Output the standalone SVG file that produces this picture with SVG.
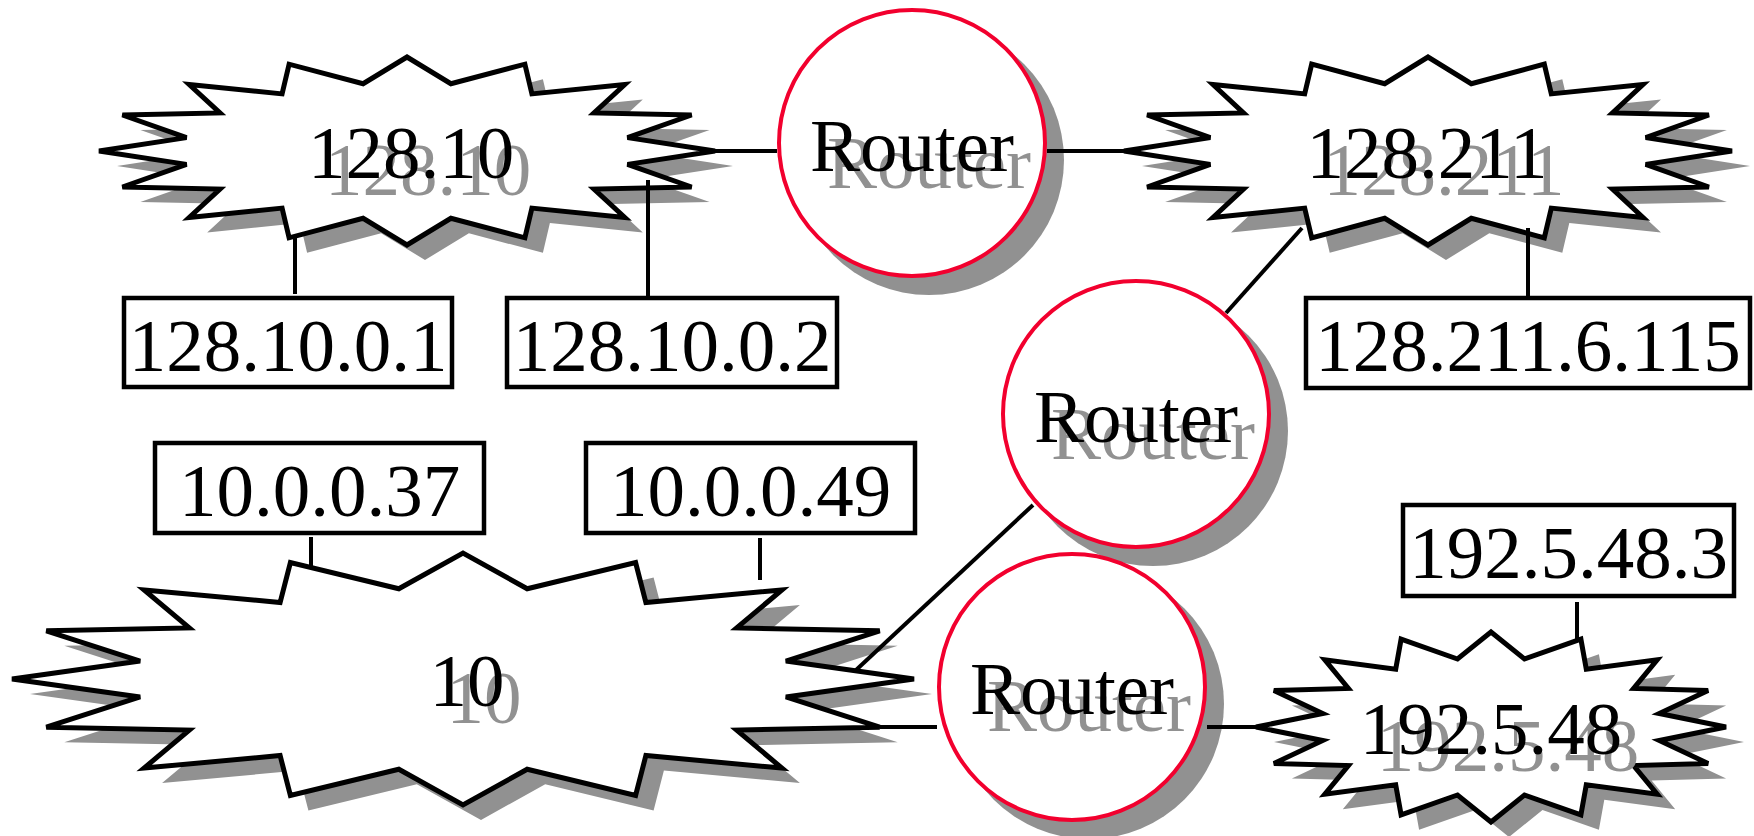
<svg xmlns="http://www.w3.org/2000/svg" width="1754" height="836" viewBox="0 0 1754 836">
<style>
.sh{fill:#919191;stroke:none}
.cloud{fill:#fff;stroke:#000;stroke-width:5}
.router{fill:#fff;stroke:#f2002e;stroke-width:4}
.box{fill:#fff;stroke:#000;stroke-width:4.5}
text{font-family:"Liberation Serif","Times New Roman",serif;font-size:75px;text-anchor:middle}
.st{fill:#919191}
.lt{fill:#000}
.conn line{stroke:#000;stroke-width:4;stroke-linecap:butt}
</style>
<defs>
<polygon id="p1" points="715,151 627.5,137.6 691.6,115 594,112.9 624.8,84.5 531.9,93.9 524.9,64.2 450.9,83.7 407,57 363.1,83.7 289.1,64.2 282.1,93.9 189.2,84.5 220,112.9 122.4,115 186.5,137.6 99,151 186.5,164.4 122.4,187 220,189.1 189.2,217.5 282.1,208.1 289.1,237.8 363.1,218.3 407,245 450.9,218.3 524.9,237.8 531.9,208.1 624.8,217.5 594,189.1 691.6,187 627.5,164.4"/>
<polygon id="p2" points="1732,151 1645.7,137.6 1708.9,115 1612.5,112.9 1643,84.5 1551.3,93.9 1544.3,64.2 1471.3,83.7 1428,57 1384.7,83.7 1311.7,64.2 1304.7,93.9 1213,84.5 1243.5,112.9 1147.1,115 1210.3,137.6 1124,151 1210.3,164.4 1147.1,187 1243.5,189.1 1213,217.5 1304.7,208.1 1311.7,237.8 1384.7,218.3 1428,245 1471.3,218.3 1544.3,237.8 1551.3,208.1 1643,217.5 1612.5,189.1 1708.9,187 1645.7,164.4"/>
<polygon id="p3" points="914,679 785.9,661.1 879.7,630.8 736.7,627.9 781.9,589.9 645.9,602.5 635.6,562.6 527.2,588.8 463,553 398.8,588.8 290.4,562.6 280.1,602.5 144.1,589.9 189.3,627.9 46.3,630.8 140.1,661.1 12,679 140.1,696.9 46.3,727.2 189.3,730.1 144.1,768.1 280.1,755.5 290.4,795.4 398.8,769.2 463,805 527.2,769.2 635.6,795.4 645.9,755.5 781.9,768.1 736.7,730.1 879.7,727.2 785.9,696.9"/>
<polygon id="p4" points="1726,727 1659.3,713.5 1708.1,690.6 1633.6,688.5 1657.2,659.8 1586.3,669.3 1580.9,639.2 1524.5,659 1491,632 1457.5,659 1401.1,639.2 1395.7,669.3 1324.8,659.8 1348.4,688.5 1273.9,690.6 1322.7,713.5 1256,727 1322.7,740.5 1273.9,763.4 1348.4,765.5 1324.8,794.2 1395.7,784.7 1401.1,814.8 1457.5,795 1491,822 1524.5,795 1580.9,814.8 1586.3,784.7 1657.2,794.2 1633.6,765.5 1708.1,763.4 1659.3,740.5"/>
</defs>

<g id="net-128-10">
<use href="#p1" class="sh" transform="translate(18,15)"/>
<use href="#p1" class="cloud"/>
<text class="st" x="428" y="195">128.10</text>
<text class="lt" x="411" y="178">128.10</text>
</g>

<g id="net-128-211">
<use href="#p2" class="sh" transform="translate(18,15)"/>
<use href="#p2" class="cloud"/>
<text class="st" x="1444" y="195">128.211</text>
<text class="lt" x="1427" y="178">128.211</text>
</g>

<g id="net-10">
<use href="#p3" class="sh" transform="translate(18,15)"/>
<use href="#p3" class="cloud"/>
<text class="st" x="484" y="723">10</text>
<text class="lt" x="467" y="706">10</text>
</g>

<g id="net-192-5-48">
<use href="#p4" class="sh" transform="translate(18,15)"/>
<use href="#p4" class="cloud"/>
<text class="st" x="1508" y="771">192.5.48</text>
<text class="lt" x="1491" y="754">192.5.48</text>
</g>

<g id="router-1">
<circle class="sh" cx="929" cy="160" r="135"/>
<circle class="router" cx="912" cy="143" r="133"/>
<text class="st" x="929" y="188">Router</text>
<text class="lt" x="912" y="171">Router</text>
</g>

<g id="router-2">
<circle class="sh" cx="1153" cy="431" r="135"/>
<circle class="router" cx="1136" cy="414" r="133"/>
<text class="st" x="1153" y="459">Router</text>
<text class="lt" x="1136" y="442">Router</text>
</g>

<g id="router-3">
<circle class="sh" cx="1089" cy="704" r="135"/>
<circle class="router" cx="1072" cy="687" r="133"/>
<text class="st" x="1089" y="731">Router</text>
<text class="lt" x="1072" y="714">Router</text>
</g>

<g id="host-128-10-0-1">
<rect class="box" x="124" y="298" width="328" height="89"/>
<text class="lt" x="288" y="371">128.10.0.1</text>
</g>

<g id="host-128-10-0-2">
<rect class="box" x="507" y="298" width="330" height="89"/>
<text class="lt" x="672" y="371">128.10.0.2</text>
</g>

<g id="host-128-211-6-115">
<rect class="box" x="1306" y="298" width="444" height="90"/>
<text class="lt" x="1528" y="371">128.211.6.115</text>
</g>

<g id="host-10-0-0-37">
<rect class="box" x="155" y="443" width="329" height="90"/>
<text class="lt" x="319.5" y="516">10.0.0.37</text>
</g>

<g id="host-10-0-0-49">
<rect class="box" x="586" y="443" width="329" height="90"/>
<text class="lt" x="750.5" y="516">10.0.0.49</text>
</g>

<g id="host-192-5-48-3">
<rect class="box" x="1403" y="505" width="331" height="91"/>
<text class="lt" x="1568.5" y="578">192.5.48.3</text>
</g>

<g id="connectors" class="conn">
<line x1="715" y1="151" x2="777" y2="151"/>
<line x1="1047" y1="151" x2="1124" y2="151"/>
<line x1="295" y1="237" x2="295" y2="294"/>
<line x1="648" y1="180" x2="648" y2="296"/>
<line x1="1528" y1="228" x2="1528" y2="296"/>
<line x1="1302" y1="228" x2="1226" y2="313"/>
<line x1="1033" y1="505" x2="855" y2="671"/>
<line x1="879.7" y1="727" x2="937" y2="727"/>
<line x1="1207" y1="727" x2="1256" y2="727"/>
<line x1="1577" y1="602" x2="1577" y2="640"/>
<line x1="311" y1="537" x2="311" y2="567"/>
<line x1="760" y1="538" x2="760" y2="580"/>
</g>
</svg>
